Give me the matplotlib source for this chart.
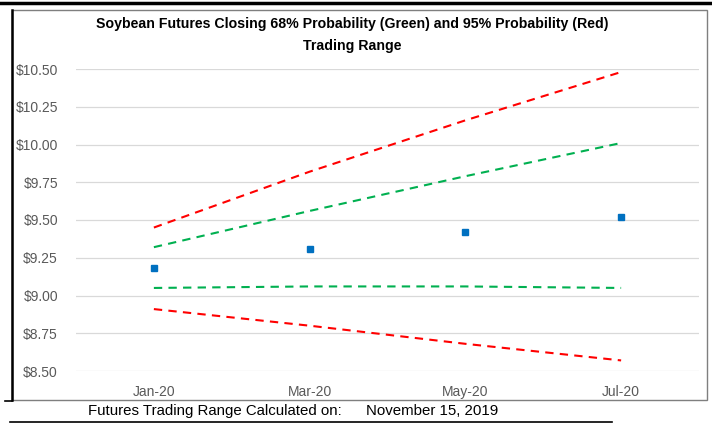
import numpy as np
import matplotlib.pyplot as plt
from matplotlib.lines import Line2D
from matplotlib.patches import Rectangle
from matplotlib.ticker import FuncFormatter

plt.rcParams.update({
    "font.family": ["Liberation Sans", "DejaVu Sans"],
    "font.size": 10,
})

months = ["Jan-20", "Mar-20", "May-20", "Jul-20"]
month_idx = [0, 2, 4, 6]
close = [9.18, 9.31, 9.42, 9.52]
upper95 = [9.45, 9.82, 10.16, 10.48]
upper68 = [9.32, 9.56, 9.79, 10.01]
lower68 = [9.05, 9.06, 9.06, 9.05]
lower95 = [8.91, 8.80, 8.68, 8.57]
yticks = [8.50, 8.75, 9.00, 9.25, 9.50, 9.75, 10.00, 10.25, 10.50]

W, H = 712, 424
fig = plt.figure(figsize=(W/100, H/100), dpi=100)
ax = fig.add_axes([76/W, 1-371/H, (699-76)/W, (371-69)/H])

dash = dict(linewidth=1.5, dashes=(4, 3))
ax.plot(month_idx, upper95, color="#FF0000", **dash)
ax.plot(month_idx, lower95, color="#FF0000", **dash)
ax.plot(month_idx, upper68, color="#00B050", **dash)
ax.plot(month_idx, lower68, color="#00B050", **dash)
ax.plot(month_idx, close, linestyle="none", marker="s", markersize=5,
        color="#0070C0")

ax.set_xlim(-1, 7)
ax.set_ylim(8.5, 10.5)
ax.set_yticks(yticks)
ax.yaxis.set_major_formatter(FuncFormatter(lambda v, p: f"${v:.2f}"))
ax.set_xticks(month_idx)
ax.set_xticklabels(months)
ax.tick_params(length=0, colors="#595959", labelsize=10)
ax.tick_params(axis="x", pad=10)
ax.tick_params(axis="y", pad=13)
ax.grid(axis="y", color="#D9D9D9", linewidth=0.9)
ax.set_axisbelow(True)
for s in ax.spines.values():
    s.set_visible(False)

fig.text(352/W, 1-24/H, "Soybean Futures Closing 68% Probability (Green) and 95% Probability (Red)",
         ha="center", va="center", fontweight="bold", fontsize=10.2)
fig.text(352/W, 1-46/H, "Trading Range", ha="center", va="center",
         fontweight="bold", fontsize=10.2)

# chart frame and surrounding rules
fig.add_artist(Rectangle((12/W, 1-400/H), (707-12)/W, (400-10)/H,
                         transform=fig.transFigure, fill=False,
                         edgecolor="#7F7F7F", linewidth=1.0))
fig.add_artist(Line2D([12/W, 12/W], [1-400/H, 1-10/H], color="black",
                      linewidth=1.8, transform=fig.transFigure))
fig.add_artist(Line2D([0, 1], [1-2.5/H, 1-2.5/H], color="black",
                      linewidth=2.5, transform=fig.transFigure))
fig.add_artist(Line2D([5/W, 12/W], [1-401/H, 1-401/H], color="black",
                      linewidth=1.2, transform=fig.transFigure))
fig.add_artist(Line2D([10/W, 612/W], [1-422/H, 1-422/H], color="black",
                      linewidth=1.2, transform=fig.transFigure))

fig.text(88/W, 1-411/H, "Futures Trading Range Calculated on:", ha="left",
         va="center", fontsize=10.8, color="black")
fig.text(366/W, 1-411/H, "November 15, 2019", ha="left", va="center",
         fontsize=10.8, color="black")

plt.savefig("out.png", dpi=100)
